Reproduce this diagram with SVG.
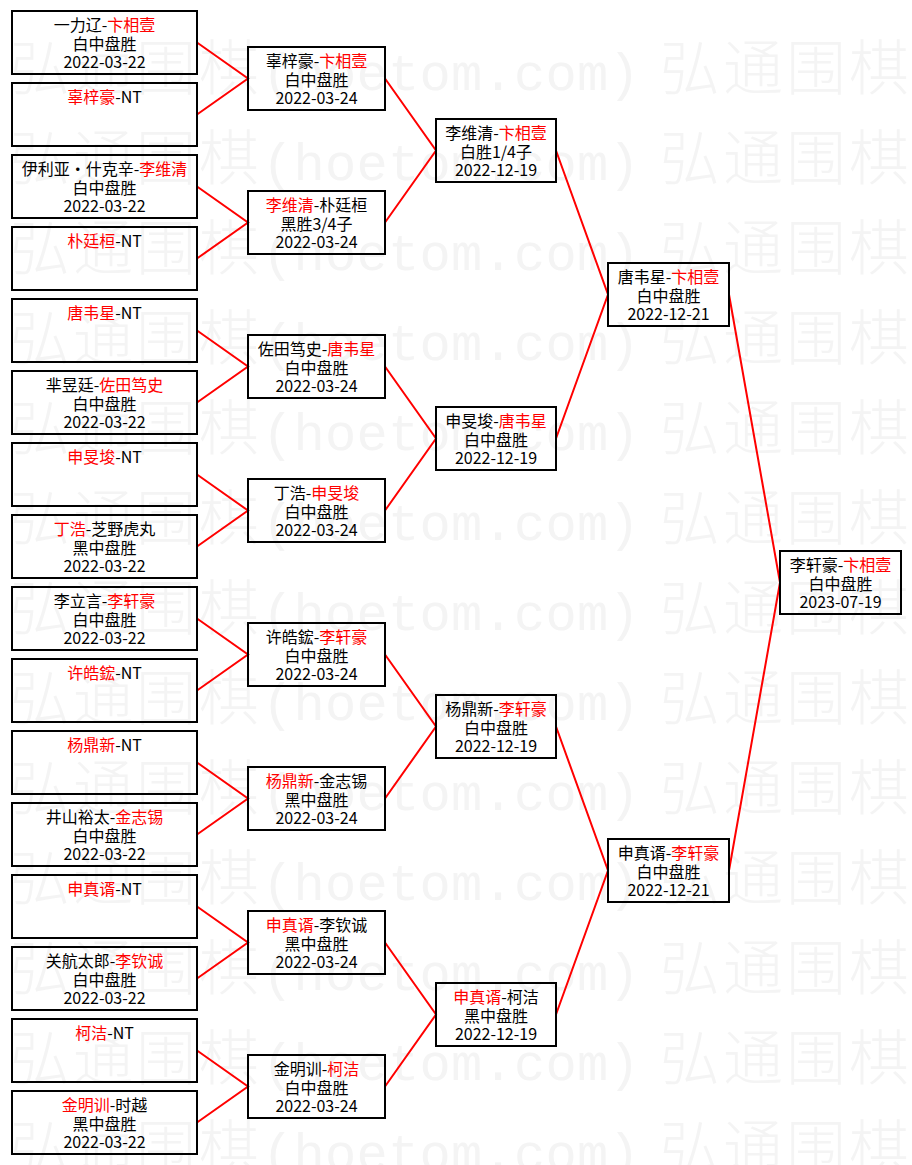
<svg xmlns="http://www.w3.org/2000/svg" xmlns:xlink="http://www.w3.org/1999/xlink" width="912" height="1165" viewBox="0 0 912 1165">
<style>
.bg{fill:#fff}
.wm{font-family:"Noto Sans CJK SC",sans-serif;font-size:60px;font-weight:300;fill:#f4f4f4}
.wa{font-family:"Liberation Mono",monospace;font-size:52px;font-weight:400}
.b{fill:none;stroke:#000;stroke-width:2}
.t{font-family:"Noto Sans CJK SC",sans-serif;font-size:16px;fill:#000;text-anchor:middle}
.r{fill:#f00}
#connectors path{fill:none;stroke:#f00;stroke-width:2}
</style>
<defs>
<text id="wmrow" class="wm" y="0"><tspan x="10 73 136 199">弘通围棋</tspan><tspan class="wa" x="262 293.5 325 356.5 388 419.5 451 482.5 514 545.5 577 608.5">(hoetom.com)</tspan><tspan x="660 723 786 849">弘通围棋</tspan></text>
</defs>
<rect class="bg" x="0" y="0" width="912" height="1165"/>
<g id="watermark">
<use xlink:href="#wmrow" transform="translate(0,90)"/>
<use xlink:href="#wmrow" transform="translate(0,180)"/>
<use xlink:href="#wmrow" transform="translate(0,270)"/>
<use xlink:href="#wmrow" transform="translate(0,360)"/>
<use xlink:href="#wmrow" transform="translate(0,450)"/>
<use xlink:href="#wmrow" transform="translate(0,540)"/>
<use xlink:href="#wmrow" transform="translate(0,630)"/>
<use xlink:href="#wmrow" transform="translate(0,720)"/>
<use xlink:href="#wmrow" transform="translate(0,810)"/>
<use xlink:href="#wmrow" transform="translate(0,900)"/>
<use xlink:href="#wmrow" transform="translate(0,990)"/>
<use xlink:href="#wmrow" transform="translate(0,1080)"/>
<use xlink:href="#wmrow" transform="translate(0,1170)"/>
</g>
<g id="connectors">
<path d="M197,42.5 L248,78.5 L197,114.5"/>
<path d="M197,186.5 L248,222.5 L197,258.5"/>
<path d="M197,330.5 L248,366.5 L197,402.5"/>
<path d="M197,474.5 L248,510.5 L197,546.5"/>
<path d="M197,618.5 L248,654.5 L197,690.5"/>
<path d="M197,762.5 L248,798.5 L197,834.5"/>
<path d="M197,906.5 L248,942.5 L197,978.5"/>
<path d="M197,1050.5 L248,1086.5 L197,1122.5"/>
<path d="M385,78.5 L436,150.5 L385,222.5"/>
<path d="M385,366.5 L436,438.5 L385,510.5"/>
<path d="M385,654.5 L436,726.5 L385,798.5"/>
<path d="M385,942.5 L436,1014.5 L385,1086.5"/>
<path d="M556,150.5 L608,294.5 L556,438.5"/>
<path d="M556,726.5 L608,870.5 L556,1014.5"/>
<path d="M729,294.5 L780,582.5 L729,870.5"/>
</g>
<g id="r1-1"><rect class="b" x="12" y="11" width="185" height="63"/><text class="t" x="104.5" y="31">一力辽-<tspan class="r">卞相壹</tspan></text><text class="t" x="104.5" y="50">白中盘胜</text><text class="t" x="104.5" y="68">2022-03-22</text></g>
<g id="r1-2"><rect class="b" x="12" y="83" width="185" height="63"/><text class="t" x="104.5" y="103"><tspan class="r">辜梓豪</tspan>-NT</text></g>
<g id="r1-3"><rect class="b" x="12" y="155" width="185" height="63"/><text class="t" x="104.5" y="175">伊利亚·什克辛-<tspan class="r">李维清</tspan></text><text class="t" x="104.5" y="194">白中盘胜</text><text class="t" x="104.5" y="212">2022-03-22</text></g>
<g id="r1-4"><rect class="b" x="12" y="227" width="185" height="63"/><text class="t" x="104.5" y="247"><tspan class="r">朴廷桓</tspan>-NT</text></g>
<g id="r1-5"><rect class="b" x="12" y="299" width="185" height="63"/><text class="t" x="104.5" y="319"><tspan class="r">唐韦星</tspan>-NT</text></g>
<g id="r1-6"><rect class="b" x="12" y="371" width="185" height="63"/><text class="t" x="104.5" y="391">芈昱廷-<tspan class="r">佐田笃史</tspan></text><text class="t" x="104.5" y="410">白中盘胜</text><text class="t" x="104.5" y="428">2022-03-22</text></g>
<g id="r1-7"><rect class="b" x="12" y="443" width="185" height="63"/><text class="t" x="104.5" y="463"><tspan class="r">申旻埈</tspan>-NT</text></g>
<g id="r1-8"><rect class="b" x="12" y="515" width="185" height="63"/><text class="t" x="104.5" y="535"><tspan class="r">丁浩</tspan>-芝野虎丸</text><text class="t" x="104.5" y="554">黑中盘胜</text><text class="t" x="104.5" y="572">2022-03-22</text></g>
<g id="r1-9"><rect class="b" x="12" y="587" width="185" height="63"/><text class="t" x="104.5" y="607">李立言-<tspan class="r">李轩豪</tspan></text><text class="t" x="104.5" y="626">白中盘胜</text><text class="t" x="104.5" y="644">2022-03-22</text></g>
<g id="r1-10"><rect class="b" x="12" y="659" width="185" height="63"/><text class="t" x="104.5" y="679"><tspan class="r">许皓鋐</tspan>-NT</text></g>
<g id="r1-11"><rect class="b" x="12" y="731" width="185" height="63"/><text class="t" x="104.5" y="751"><tspan class="r">杨鼎新</tspan>-NT</text></g>
<g id="r1-12"><rect class="b" x="12" y="803" width="185" height="63"/><text class="t" x="104.5" y="823">井山裕太-<tspan class="r">金志锡</tspan></text><text class="t" x="104.5" y="842">白中盘胜</text><text class="t" x="104.5" y="860">2022-03-22</text></g>
<g id="r1-13"><rect class="b" x="12" y="875" width="185" height="63"/><text class="t" x="104.5" y="895"><tspan class="r">申真谞</tspan>-NT</text></g>
<g id="r1-14"><rect class="b" x="12" y="947" width="185" height="63"/><text class="t" x="104.5" y="967">关航太郎-<tspan class="r">李钦诚</tspan></text><text class="t" x="104.5" y="986">白中盘胜</text><text class="t" x="104.5" y="1004">2022-03-22</text></g>
<g id="r1-15"><rect class="b" x="12" y="1019" width="185" height="63"/><text class="t" x="104.5" y="1039"><tspan class="r">柯洁</tspan>-NT</text></g>
<g id="r1-16"><rect class="b" x="12" y="1091" width="185" height="63"/><text class="t" x="104.5" y="1111"><tspan class="r">金明训</tspan>-时越</text><text class="t" x="104.5" y="1130">黑中盘胜</text><text class="t" x="104.5" y="1148">2022-03-22</text></g>
<g id="r2-1"><rect class="b" x="248" y="47" width="137" height="63"/><text class="t" x="316.5" y="67">辜梓豪-<tspan class="r">卞相壹</tspan></text><text class="t" x="316.5" y="86">白中盘胜</text><text class="t" x="316.5" y="104">2022-03-24</text></g>
<g id="r2-2"><rect class="b" x="248" y="191" width="137" height="63"/><text class="t" x="316.5" y="211"><tspan class="r">李维清</tspan>-朴廷桓</text><text class="t" x="316.5" y="230">黑胜3/4子</text><text class="t" x="316.5" y="248">2022-03-24</text></g>
<g id="r2-3"><rect class="b" x="248" y="335" width="137" height="63"/><text class="t" x="316.5" y="355">佐田笃史-<tspan class="r">唐韦星</tspan></text><text class="t" x="316.5" y="374">白中盘胜</text><text class="t" x="316.5" y="392">2022-03-24</text></g>
<g id="r2-4"><rect class="b" x="248" y="479" width="137" height="63"/><text class="t" x="316.5" y="499">丁浩-<tspan class="r">申旻埈</tspan></text><text class="t" x="316.5" y="518">白中盘胜</text><text class="t" x="316.5" y="536">2022-03-24</text></g>
<g id="r2-5"><rect class="b" x="248" y="623" width="137" height="63"/><text class="t" x="316.5" y="643">许皓鋐-<tspan class="r">李轩豪</tspan></text><text class="t" x="316.5" y="662">白中盘胜</text><text class="t" x="316.5" y="680">2022-03-24</text></g>
<g id="r2-6"><rect class="b" x="248" y="767" width="137" height="63"/><text class="t" x="316.5" y="787"><tspan class="r">杨鼎新</tspan>-金志锡</text><text class="t" x="316.5" y="806">黑中盘胜</text><text class="t" x="316.5" y="824">2022-03-24</text></g>
<g id="r2-7"><rect class="b" x="248" y="911" width="137" height="63"/><text class="t" x="316.5" y="931"><tspan class="r">申真谞</tspan>-李钦诚</text><text class="t" x="316.5" y="950">黑中盘胜</text><text class="t" x="316.5" y="968">2022-03-24</text></g>
<g id="r2-8"><rect class="b" x="248" y="1055" width="137" height="63"/><text class="t" x="316.5" y="1075">金明训-<tspan class="r">柯洁</tspan></text><text class="t" x="316.5" y="1094">白中盘胜</text><text class="t" x="316.5" y="1112">2022-03-24</text></g>
<g id="r3-1"><rect class="b" x="436" y="119" width="120" height="63"/><text class="t" x="496" y="139">李维清-<tspan class="r">卞相壹</tspan></text><text class="t" x="496" y="158">白胜1/4子</text><text class="t" x="496" y="176">2022-12-19</text></g>
<g id="r3-2"><rect class="b" x="436" y="407" width="120" height="63"/><text class="t" x="496" y="427">申旻埈-<tspan class="r">唐韦星</tspan></text><text class="t" x="496" y="446">白中盘胜</text><text class="t" x="496" y="464">2022-12-19</text></g>
<g id="r3-3"><rect class="b" x="436" y="695" width="120" height="63"/><text class="t" x="496" y="715">杨鼎新-<tspan class="r">李轩豪</tspan></text><text class="t" x="496" y="734">白中盘胜</text><text class="t" x="496" y="752">2022-12-19</text></g>
<g id="r3-4"><rect class="b" x="436" y="983" width="120" height="63"/><text class="t" x="496" y="1003"><tspan class="r">申真谞</tspan>-柯洁</text><text class="t" x="496" y="1022">黑中盘胜</text><text class="t" x="496" y="1040">2022-12-19</text></g>
<g id="r4-1"><rect class="b" x="608" y="263" width="121" height="63"/><text class="t" x="668.5" y="283">唐韦星-<tspan class="r">卞相壹</tspan></text><text class="t" x="668.5" y="302">白中盘胜</text><text class="t" x="668.5" y="320">2022-12-21</text></g>
<g id="r4-2"><rect class="b" x="608" y="839" width="121" height="63"/><text class="t" x="668.5" y="859">申真谞-<tspan class="r">李轩豪</tspan></text><text class="t" x="668.5" y="878">白中盘胜</text><text class="t" x="668.5" y="896">2022-12-21</text></g>
<g id="final"><rect class="b" x="780" y="551" width="121" height="63"/><text class="t" x="840.5" y="571">李轩豪-<tspan class="r">卞相壹</tspan></text><text class="t" x="840.5" y="590">白中盘胜</text><text class="t" x="840.5" y="608">2023-07-19</text></g>
</svg>
